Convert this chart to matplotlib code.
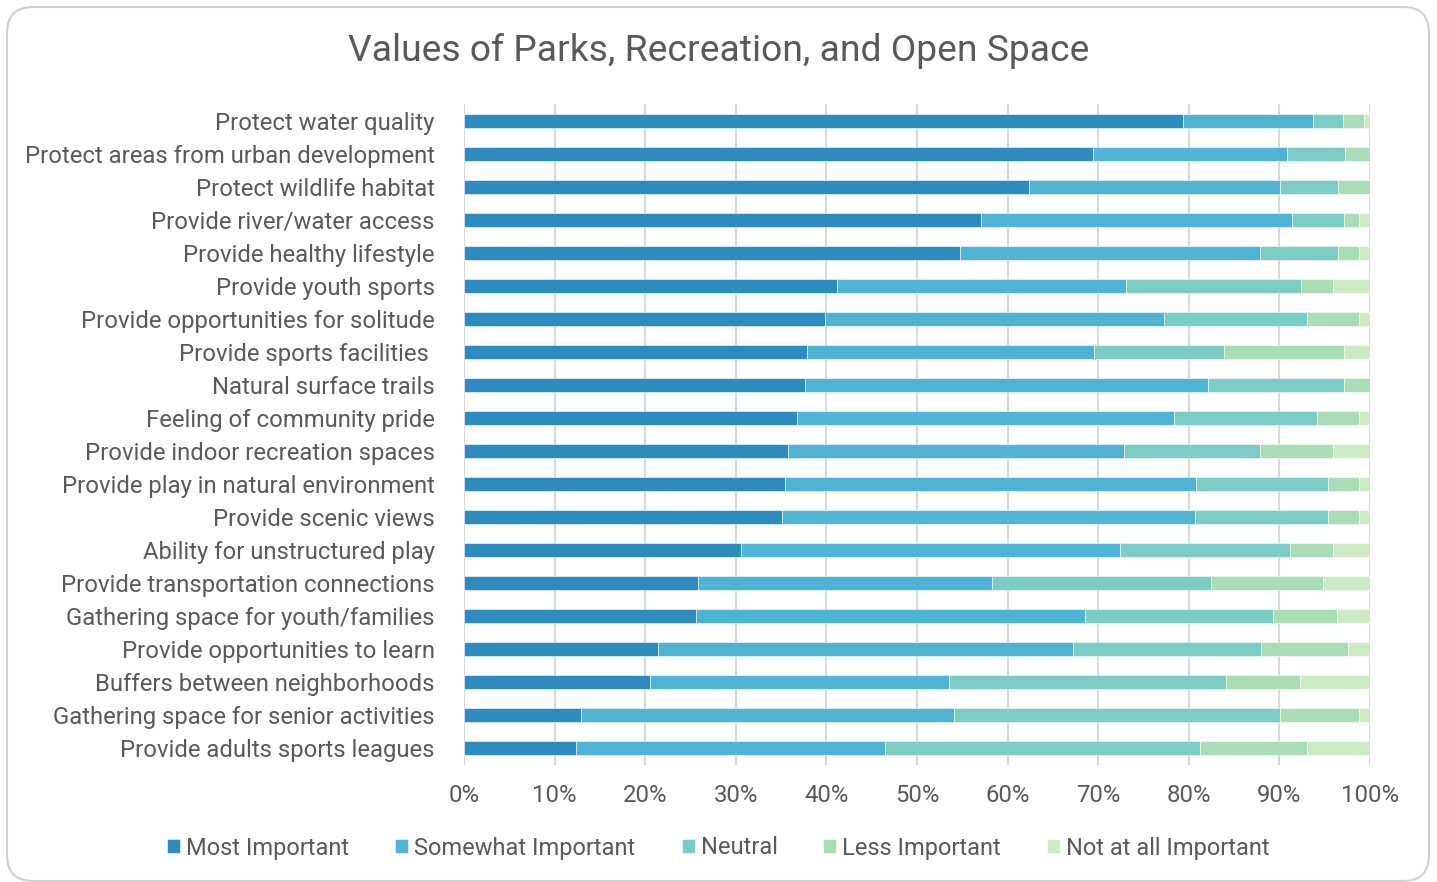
#!/usr/bin/env python3
"""Stacked 100% bar chart: values of parks, recreation, and open space."""

import matplotlib

matplotlib.use("Agg")
import matplotlib.pyplot as plt
import numpy as np
from matplotlib.patches import FancyBboxPatch
from matplotlib.ticker import PercentFormatter

categories = [
    "Protect water quality",
    "Protect areas from urban development",
    "Protect wildlife habitat",
    "Provide river/water access",
    "Provide healthy lifestyle",
    "Provide youth sports",
    "Provide opportunities for solitude",
    "Provide sports facilities ",
    "Natural surface trails",
    "Feeling of community pride",
    "Provide indoor recreation spaces",
    "Provide play in natural environment",
    "Provide scenic views",
    "Ability for unstructured play",
    "Provide transportation connections",
    "Gathering space for youth/families",
    "Provide opportunities to learn",
    "Buffers between neighborhoods",
    "Gathering space for senior activities",
    "Provide adults sports leagues",
]

# shares (percent), per response level
most_important = [79.4, 69.4, 62.4, 57.1, 54.7, 41.2, 39.8, 37.9, 37.6, 36.8,
                  35.8, 35.4, 35.1, 30.6, 25.8, 25.6, 21.4, 20.5, 12.9, 12.4]
somewhat_important = [14.3, 21.4, 27.7, 34.3, 33.2, 31.9, 37.5, 31.6, 44.5, 41.6,
                      37.0, 45.4, 45.6, 41.8, 32.5, 42.9, 45.8, 33.0, 41.2, 34.1]
neutral = [3.3, 6.4, 6.4, 5.7, 8.6, 19.3, 15.7, 14.4, 15.0, 15.8,
           15.1, 14.6, 14.7, 18.8, 24.2, 20.8, 20.8, 30.6, 36.0, 34.7]
less_important = [2.3, 2.8, 3.5, 1.7, 2.3, 3.5, 5.8, 13.2, 2.9, 4.6,
                  8.0, 3.4, 3.4, 4.7, 12.3, 7.1, 9.6, 8.2, 8.7, 11.8]
not_important = [0.7, 0.0, 0.0, 1.2, 1.2, 4.1, 1.2, 2.9, 0.0, 1.2,
                 4.1, 1.2, 1.2, 4.1, 5.2, 3.6, 2.4, 7.7, 1.2, 7.0]

series_names = ["Most Important", "Somewhat Important", "Neutral",
                "Less Important", "Not at all Important"]
series_colors = ["#2E8BC0", "#4FB3D4", "#7BCCC4", "#A8DDB5", "#CCEBC5"]

TEXT = "#595959"
W, H = 1437, 882

plt.rcParams["font.family"] = ["Roboto", "DejaVu Sans"]

fig = plt.figure(figsize=(W / 100, H / 100), dpi=100)
fig.patches.append(
    FancyBboxPatch(
        (7 / W, 1 - 881 / H), 1422 / W, 874 / H,
        boxstyle="round,pad=0,rounding_size=0.018",
        transform=fig.transFigure, facecolor="white",
        edgecolor="#D0D0D0", linewidth=1.5, zorder=-1,
        mutation_aspect=W / H,
    )
)

ax = fig.add_axes([464 / W, 1 - 764.5 / H, 906 / W, 660 / H])

y = np.arange(len(categories))
left = np.zeros(len(categories))
for name, vals, col in zip(
    series_names,
    [most_important, somewhat_important, neutral, less_important, not_important],
    series_colors,
):
    vals = np.array(vals)
    ax.barh(y, vals, left=left, height=0.43, color=col, label=name,
            edgecolor="white", linewidth=0.4, zorder=3)
    left += vals

ax.set_ylim(len(categories) - 0.5, -0.5)
ax.set_xlim(0, 100)
ax.set_xticks(np.arange(0, 101, 10))
ax.xaxis.set_major_formatter(PercentFormatter(decimals=0))
ax.set_yticks(y)
ax.set_yticklabels(categories)
ax.tick_params(axis="both", length=0, labelsize=17.2, colors=TEXT)
ax.tick_params(axis="y", pad=21)
ax.tick_params(axis="x", pad=14)
ax.grid(axis="x", color="#D9D9D9", linewidth=1.5, zorder=0)
for s in ax.spines.values():
    s.set_visible(False)

fig.text(0.5, 1 - 51 / H, "Values of Parks, Recreation, and Open Space",
         ha="center", va="center", fontsize=26.8, color=TEXT)

fig.legend(
    loc="center", bbox_to_anchor=(0.5, 1 - 848 / H), ncol=5, frameon=False,
    fontsize=17, labelcolor=TEXT, handlelength=0.55, handleheight=0.55,
    handletextpad=0.25, columnspacing=1.95,
)

fig.savefig("out.png", dpi=100)
